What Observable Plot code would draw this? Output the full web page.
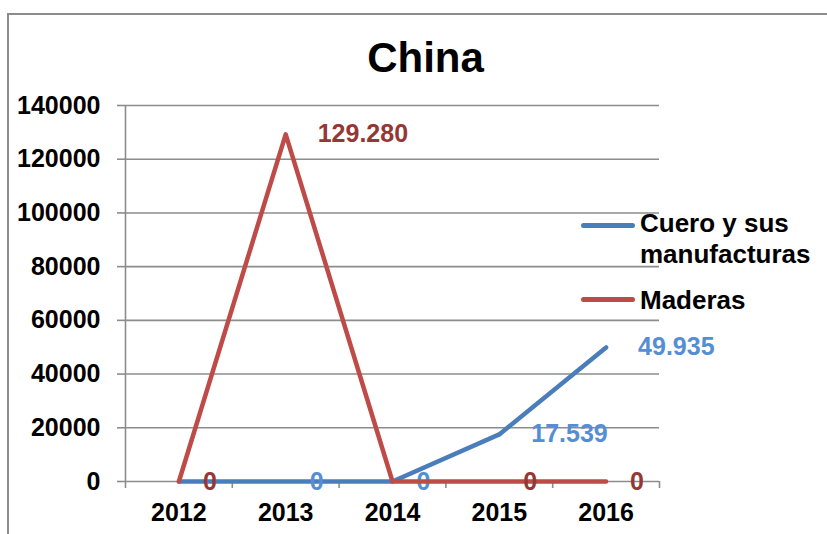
<!DOCTYPE html>
<html>
<head>
<meta charset="utf-8">
<script src="https://cdn.jsdelivr.net/npm/d3@7"></script>
<script src="https://cdn.jsdelivr.net/npm/@observablehq/plot@0.6"></script>
<style>
  html, body { margin: 0; padding: 0; background: #fff; }
  #wrap { position: relative; width: 827px; height: 534px; overflow: hidden; font-family: "Liberation Sans", Arial, sans-serif; font-weight: bold; }
  #border { position: absolute; left: 7px; top: 13px; width: 900px; height: 600px; border-left: 2px solid #8c8c8c; border-top: 2px solid #8c8c8c; }
  #title { position: absolute; left: 325px; width: 201px; top: 37px; text-align: center; font-size: 42px; line-height: 42px; color: #000; }
  .lg-line { position: absolute; height: 5px; border-radius: 3px; }
  .lg-text { position: absolute; font-size: 26px; line-height: 31px; color: #000; white-space: nowrap; }
  #chart { position: absolute; left: 0; top: 0; }
</style>
</head>
<body>
<div id="wrap">
  <div id="border"></div>
  <div id="chart"></div>
  <div id="title"></div>
  <div id="legend"></div>
</div>
<script>
// ---- data ----
const title = "China";
const years = [2012, 2013, 2014, 2015, 2016];
const seriesNames = ["Cuero y sus manufacturas", "Maderas"];
const cuero = [0, 0, 0, 17539, 49935];
const maderas = [0, 129280, 0, 0, 0];
const cueroLabelShown = [false, true, true, true, true];
const maderasLabelShown = [true, true, false, true, true];
const yTicks = [0, 20000, 40000, 60000, 80000, 100000, 120000, 140000];

// ---- styles ----
const blue = "#4a7ebb", red = "#be4b48";
const blueLabel = "#558ed5", redLabel = "#953735";
const gridColor = "#8c8c8c";

const es = d3.formatLocale({decimal: ",", thousands: ".", grouping: [3], currency: ["", ""]});
const fmt = es.format(",");

const cueroRows = years.map((year, i) => ({year, value: cuero[i], show: cueroLabelShown[i]}));
const maderasRows = years.map((year, i) => ({year, value: maderas[i], show: maderasLabelShown[i]}));
const boundaries = years.map(y => y - 0.5).concat([years[years.length - 1] + 0.5]);

function labels(rows, color) {
  const common = {x: "year", y: "value", text: d => fmt(d.value), fill: color, textAnchor: "start", lineAnchor: "middle", fontSize: 25, fontWeight: "bold"};
  return [
    Plot.text(rows.filter(d => d.show && d.value === 0), {...common, dx: 24}),
    Plot.text(rows.filter(d => d.show && d.value !== 0), {...common, dx: 32})
  ];
}

const chart = Plot.plot({
  width: 827,
  height: 534,
  marginLeft: 125,
  marginRight: 168,
  marginTop: 105,
  marginBottom: 53,
  style: {fontFamily: '"Liberation Sans", Arial, sans-serif', fontWeight: "bold", fontSize: "25px", color: "#000", background: "transparent", overflow: "visible"},
  x: {domain: [boundaries[0], boundaries[boundaries.length - 1]], label: null},
  y: {domain: [0, 140000], label: null},
  marks: [
    Plot.gridY(yTicks, {stroke: gridColor, strokeOpacity: 1, strokeWidth: 1.6}),
    Plot.ruleX([boundaries[0]], {stroke: gridColor, strokeWidth: 1.6}),
    Plot.axisY({ticks: yTicks, tickSize: 8, tickPadding: 17, tickFormat: d => String(d), stroke: gridColor, strokeWidth: 1.6, fontSize: 25, fill: "#000", label: null}),
    Plot.axisX({ticks: boundaries, tickSize: 7, tickFormat: () => "", stroke: gridColor, strokeWidth: 1.6, label: null}),
    Plot.axisX({ticks: years, tickSize: 0, tickPadding: 22, tickFormat: d => String(d), fontSize: 25, fill: "#000", label: null}),
    Plot.line(cueroRows, {x: "year", y: "value", stroke: blue, strokeWidth: 4.5, strokeLinejoin: "round"}),
    ...labels(cueroRows, blueLabel),
    Plot.line(maderasRows, {x: "year", y: "value", stroke: red, strokeWidth: 4.5, strokeLinejoin: "round"}),
    ...labels(maderasRows, redLabel)
  ]
});
document.getElementById("chart").appendChild(chart);
document.getElementById("title").textContent = title;

// legend
const legend = document.getElementById("legend");
const items = [
  {name: seriesNames[0].replace("sus ", "sus\n"), color: blue, lineY: 225, textTop: 208},
  {name: seriesNames[1], color: red, lineY: 299, textTop: 285}
];
items.forEach(it => {
  const ln = document.createElement("div");
  ln.className = "lg-line";
  ln.style.left = "581px"; ln.style.width = "54px";
  ln.style.top = (it.lineY - 2.5) + "px";
  ln.style.background = it.color;
  legend.appendChild(ln);
  const tx = document.createElement("div");
  tx.className = "lg-text";
  tx.style.left = "640px"; tx.style.top = it.textTop + "px";
  it.name.split("\n").forEach((t, i) => {
    if (i) tx.appendChild(document.createElement("br"));
    tx.appendChild(document.createTextNode(t));
  });
  legend.appendChild(tx);
});
</script>
</body>
</html>
